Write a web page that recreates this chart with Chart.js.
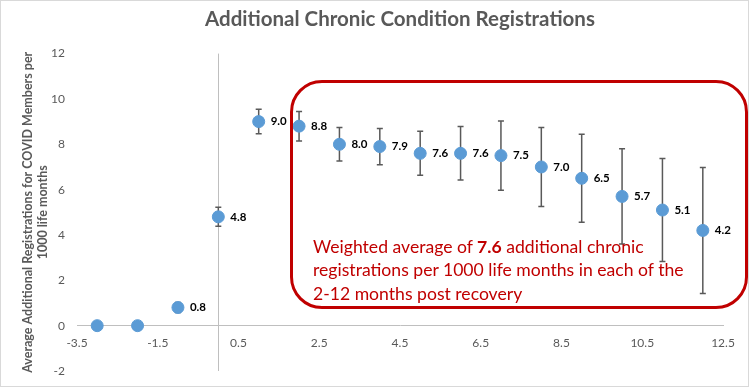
<!DOCTYPE html>
<html>
<head>
<meta charset="utf-8">
<script src="https://cdn.jsdelivr.net/npm/chart.js@4.4.0/dist/chart.umd.min.js"></script>
<style>
  html, body { margin: 0; padding: 0; background: #fff; }
  #wrap { position: relative; width: 750px; height: 387px; }
  #frame { position: absolute; left: 0; top: 0; width: 749px; height: 387px; box-sizing: border-box; border: 1px solid #d9d9d9; pointer-events: none; }
  #note { position: absolute; left: 290px; top: 80px; width: 458px; height: 229px; box-sizing: border-box; border: 3px solid #c00000; border-radius: 32px; pointer-events: none; }
  #noteText { position: absolute; left: 313px; top: 235px; font-family: Lato, sans-serif; font-size: 17.6px; line-height: 23.3px; color: #c00000; white-space: nowrap; pointer-events: none; }
</style>
</head>
<body>
<div id="wrap">
  <canvas id="chart-scatter" width="750" height="387"></canvas>
  <div id="note"></div>
  <div id="noteText">Weighted average of <b>7.6</b> additional chronic<br>registrations per 1000 life months in each of the<br>2-12 months post recovery</div>
  <div id="frame"></div>
</div>
<script>
// months relative to recovery
const months = [-3, -2, -1, 0, 1, 2, 3, 4, 5, 6, 7, 8, 9, 10, 11, 12];
const registrations = [0, 0, 0.8, 4.8, 9.0, 8.8, 8.0, 7.9, 7.6, 7.6, 7.5, 7.0, 6.5, 5.7, 5.1, 4.2];
// +/- error bar size
const errorMargins = [0, 0, 0.22, 0.42, 0.54, 0.65, 0.74, 0.8, 0.97, 1.18, 1.53, 1.74, 1.94, 2.1, 2.27, 2.78];
const xTickValues = [-3.5, -1.5, 0.5, 2.5, 4.5, 6.5, 8.5, 10.5, 12.5];
const yTickValues = [-2, 0, 2, 4, 6, 8, 10, 12];

const gray = '#595959';
const baseFont = 'Lato';

window.addEventListener('DOMContentLoaded', () => {
  const ctx = document.getElementById('chart-scatter');

  // vertical axis line drawn at x = 0
  const zeroLine = {
    id: 'zeroLine',
    beforeDatasetsDraw(chart) {
      const { ctx, chartArea, scales: { x } } = chart;
      const px = Math.round(x.getPixelForValue(0)) + 0.5;
      ctx.save();
      ctx.strokeStyle = '#bfbfbf';
      ctx.lineWidth = 1;
      ctx.beginPath();
      ctx.moveTo(px, chartArea.top);
      ctx.lineTo(px, chartArea.bottom);
      ctx.stroke();
      ctx.restore();
    }
  };

  const errorBars = {
    id: 'errorBars',
    beforeDatasetsDraw(chart) {
      const { ctx, scales: { x, y } } = chart;
      ctx.save();
      ctx.strokeStyle = gray;
      ctx.lineWidth = 1.5;
      months.forEach((m, i) => {
        const e = errorMargins[i];
        if (!e) return;
        const px = x.getPixelForValue(m);
        const top = y.getPixelForValue(registrations[i] + e);
        const bottom = y.getPixelForValue(registrations[i] - e);
        ctx.beginPath();
        ctx.moveTo(px, top);
        ctx.lineTo(px, bottom);
        ctx.moveTo(px - 3, top);
        ctx.lineTo(px + 3, top);
        ctx.moveTo(px - 3, bottom);
        ctx.lineTo(px + 3, bottom);
        ctx.stroke();
      });
      ctx.restore();
    }
  };

  const valueLabels = {
    id: 'valueLabels',
    afterDatasetsDraw(chart) {
      const { ctx } = chart;
      const points = chart.getDatasetMeta(0).data;
      ctx.save();
      ctx.fillStyle = '#000';
      ctx.font = `bold 11.5px ${baseFont}`;
      ctx.textAlign = 'left';
      ctx.textBaseline = 'middle';
      points.forEach((pt, i) => {
        if (registrations[i] === 0) return;
        ctx.fillText(registrations[i].toFixed(1), pt.x + 12, pt.y);
      });
      ctx.restore();
    }
  };

  new Chart(ctx, {
    type: 'scatter',
    data: {
      datasets: [{
        data: months.map((m, i) => ({ x: m, y: registrations[i] })),
        backgroundColor: '#5b9bd5',
        borderColor: '#5b9bd5',
        pointRadius: 6,
        pointHoverRadius: 6
      }]
    },
    options: {
      responsive: false,
      animation: false,
      layout: {
        padding: { top: 0, right: 27, bottom: 16, left: 0 }
      },
      plugins: {
        legend: { display: false },
        tooltip: { enabled: false },
        title: {
          display: true,
          fullSize: false,
          text: 'Additional Chronic Condition Registrations',
          color: gray,
          font: { family: baseFont, size: 20.5, weight: 'bold' },
          padding: { top: 7.5, bottom: 21.5 }
        }
      },
      scales: {
        x: {
          type: 'linear',
          min: -3.5,
          max: 12.5,
          position: { y: 0 },
          afterBuildTicks: (scale) => {
            scale.ticks = xTickValues.map(v => ({ value: v }));
          },
          afterFit: (scale) => {
            scale.height = 12;
          },
          grid: { display: false, drawTicks: false },
          border: { color: '#bfbfbf', width: 1 },
          ticks: {
            padding: 10,
            color: gray,
            font: { family: baseFont, size: 12 }
          }
        },
        y: {
          min: -2,
          max: 12,
          position: 'left',
          afterBuildTicks: (scale) => {
            scale.ticks = yTickValues.map(v => ({ value: v }));
          },
          afterFit: (scale) => {
            scale.width = 77;
            // the tick padding would otherwise push the plot bottom up
            scale.paddingBottom = 0;
          },
          grid: { display: false, drawTicks: false },
          border: { display: false },
          ticks: {
            padding: 12,
            color: gray,
            font: { family: baseFont, size: 12 }
          },
          title: {
            display: true,
            text: ['Average Additional Registrations for COVID Members per', '1000 life months'],
            color: gray,
            font: { family: baseFont, size: 12.5, weight: 'bold' },
            padding: { top: 20.5 }
          }
        }
      }
    },
    plugins: [zeroLine, errorBars, valueLabels]
  });
});
</script>
</body>
</html>
